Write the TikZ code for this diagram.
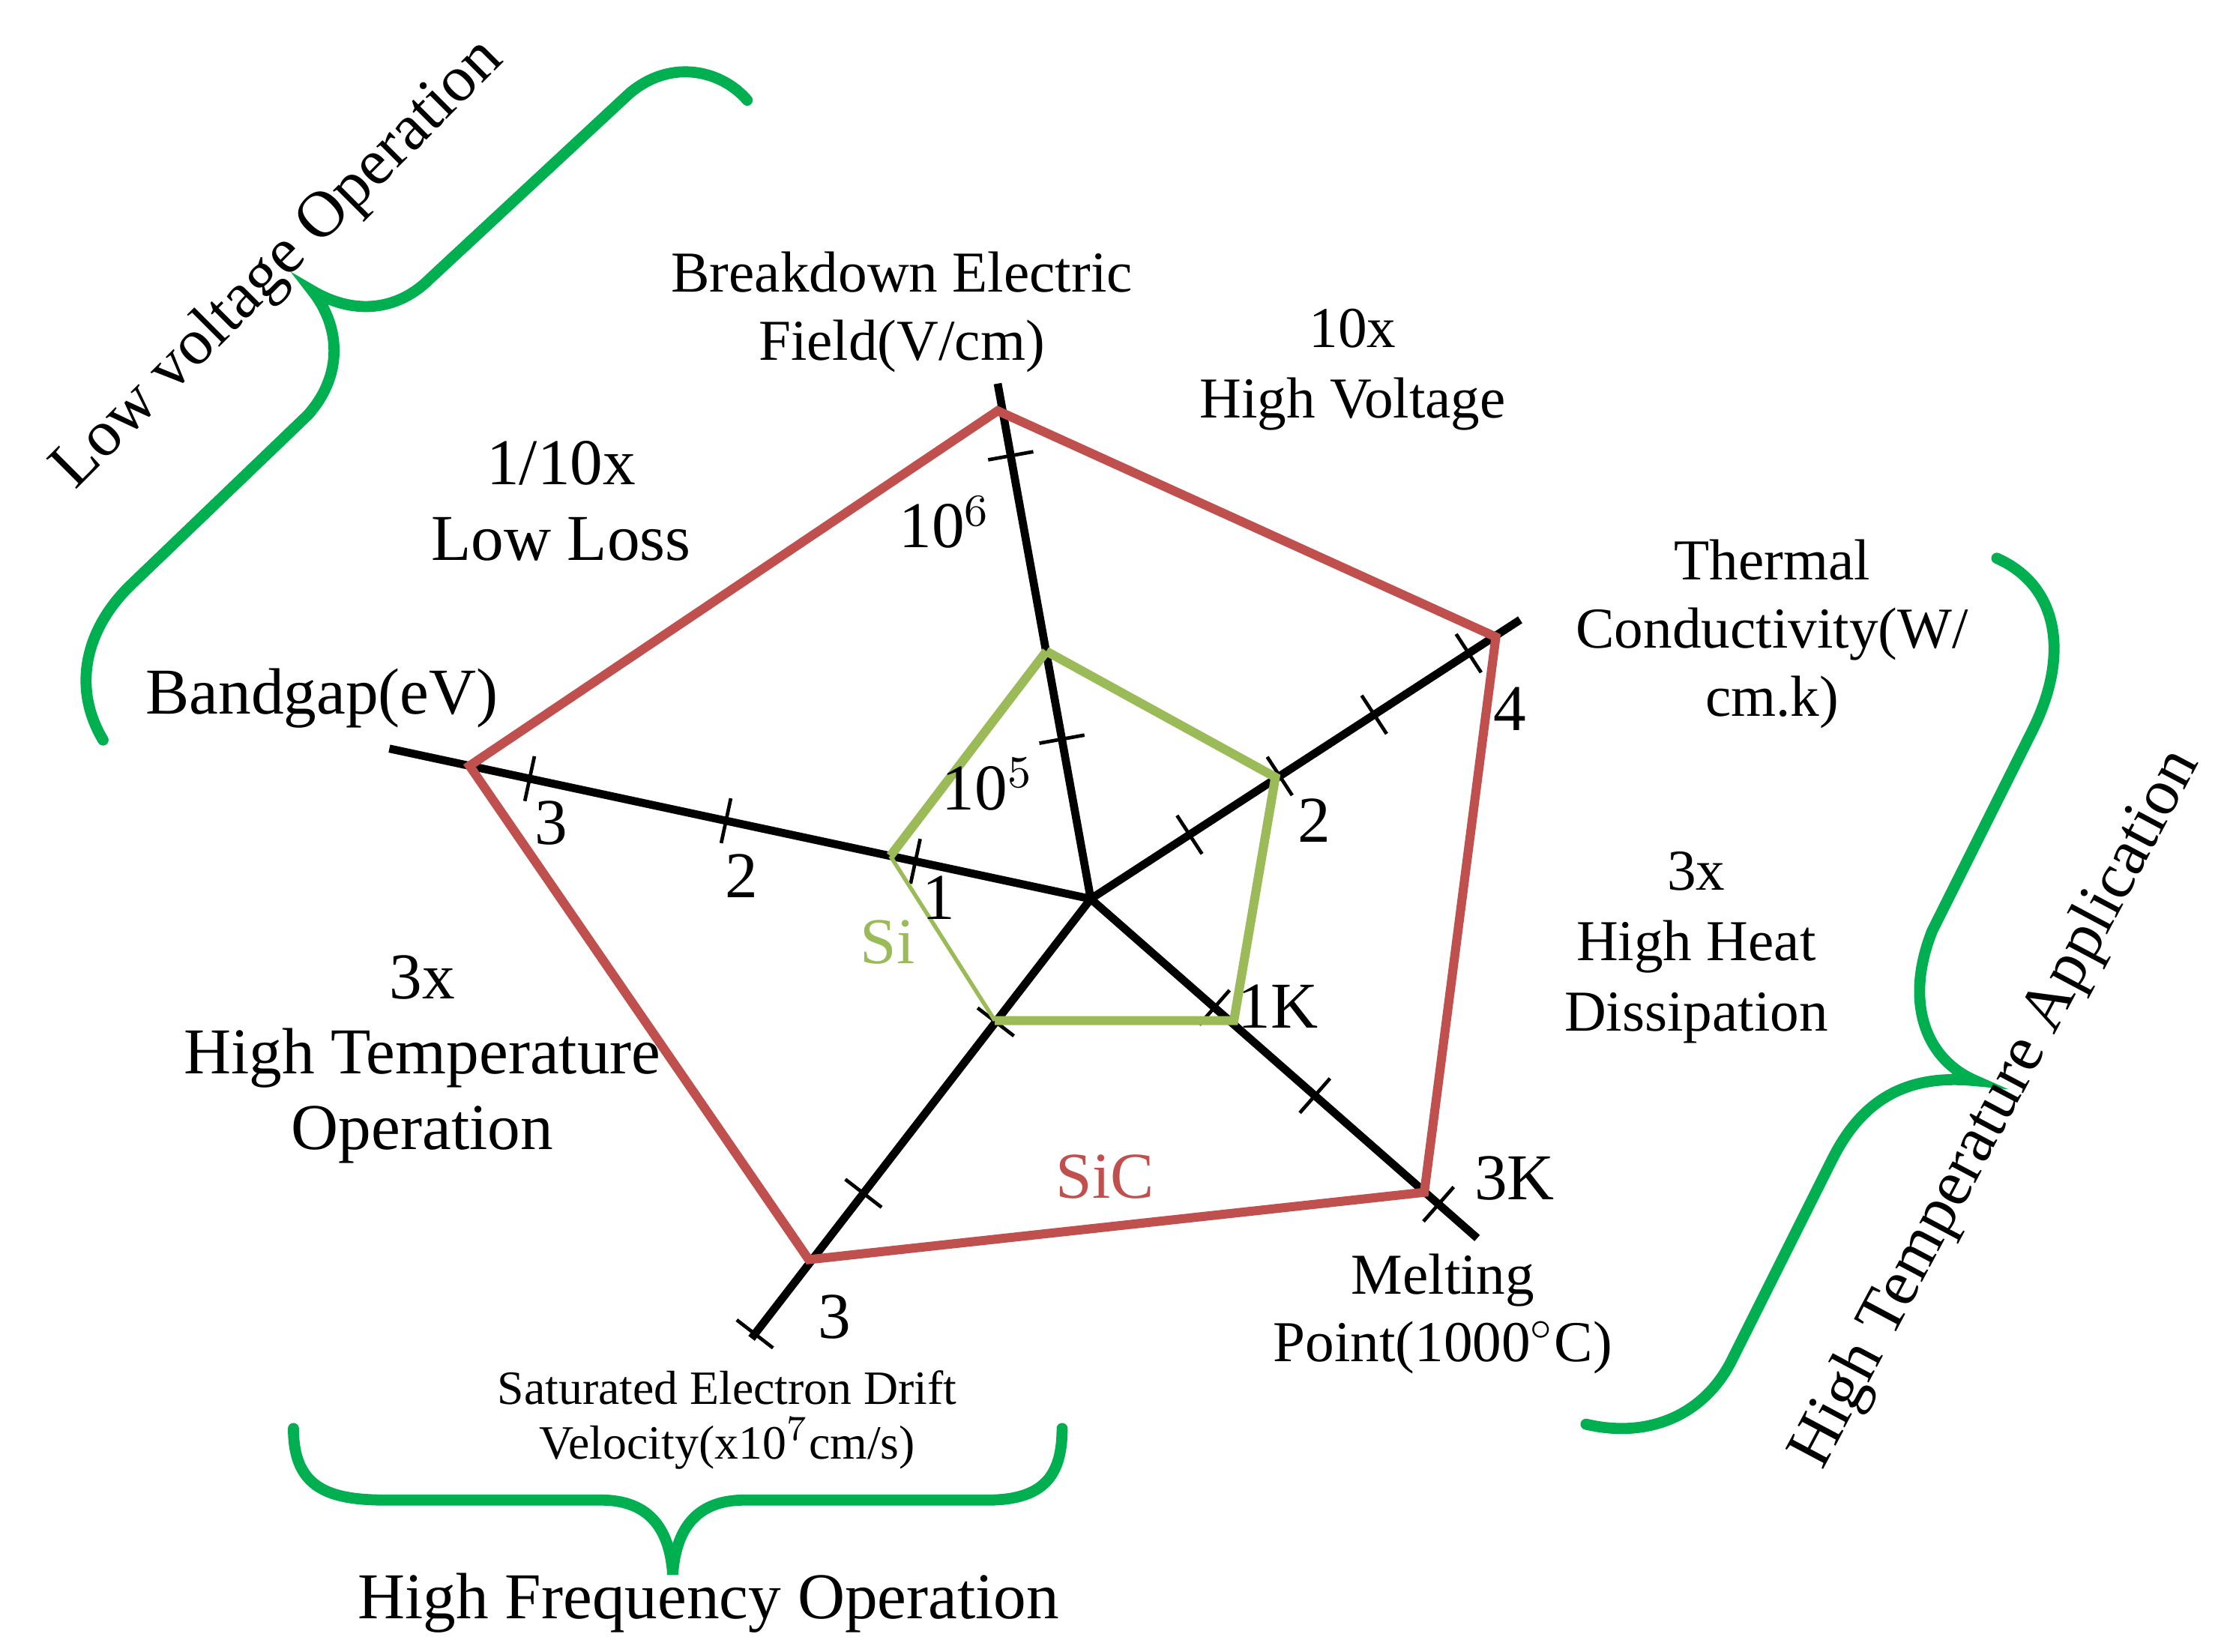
\documentclass[tikz,border=0pt]{standalone}
\usepackage{fontspec}
\setmainfont{Liberation Serif}
\usetikzlibrary{positioning,calc}
\definecolor{sicred}{RGB}{192,80,77}
\definecolor{sigreen}{RGB}{155,187,89}
\definecolor{bracegreen}{RGB}{0,176,80}
\tikzset{
  axis/.style={line width=1.6pt, black},
  tickmark/.style={draw, line width=0.7pt, minimum width=0pt, minimum height=3.2mm, inner sep=0pt, sloped},
  lbl/.style={align=center, font=\fontsize{13}{15}\selectfont},
  small/.style={align=center, font=\fontsize{9.5}{11}\selectfont},
  brace/.style={bracegreen, line width=2.2pt, line cap=round}
}
\begin{document}
\begin{tikzpicture}[x=0.01cm, y=-0.01cm]
  \useasboundingbox (0,0) rectangle (1560,1154);
  % axes
  \coordinate (c) at (762,628);
  \coordinate (bd) at (697,268);
  \coordinate (tc) at (1062,433);
  \coordinate (mp) at (1032,865);
  \coordinate (sv) at (525,935);
  \coordinate (bg) at (272,523);
  \foreach \e in {bd,tc,mp,sv,bg}
    \draw[axis] (c) -- (\e);
  % ticks
  \path (c) -- (bd) node[tickmark, pos=0.31]{} node[tickmark, pos=0.86]{};
  \path (c) -- (tc) node[tickmark, pos=0.23]{} node[tickmark, pos=0.44]{}
                    node[tickmark, pos=0.66]{} node[tickmark, pos=0.88]{};
  \path (c) -- (mp) node[tickmark, pos=0.32]{} node[tickmark, pos=0.58]{} node[tickmark, pos=0.9]{};
  \path (c) -- (sv) node[tickmark, pos=0.28]{} node[tickmark, pos=0.67]{} node[tickmark, pos=0.99]{};
  \path (c) -- (bg) node[tickmark, pos=0.25]{} node[tickmark, pos=0.52]{} node[tickmark, pos=0.8]{};
  % polygons
  \draw[sicred, line width=1.8pt] (697,287) -- (1045,445) -- (995,833) -- (565,880) -- (328,535) -- cycle;
  \draw[sigreen, line width=1.8pt] (731,455) -- (891,543) -- (862,713) -- (695,713);
  \draw[sigreen, line width=0.8pt] (695,713) -- (622,598);
  \draw[sigreen, line width=1.8pt] (622,598) -- (731,455);
  % scale labels
  \node[lbl] (n6) at (660,365) {10$^6$};
  \node[lbl] (n5) at (690,548) {10$^5$};
  \node[lbl] (t4) at (1055,495) {4};
  \node[lbl] (t2) at (918,573) {2};
  \node[lbl] (m1) at (893,703) {1K};
  \node[lbl] (m3) at (1058,823) {3K};
  \node[lbl] (s3) at (583,920) {3};
  \node[lbl] (g3) at (385,575) {3};
  \node[lbl] (g2) at (518,612) {2};
  \node[lbl] (g1) at (656,627) {1};
  \node[lbl, text=sigreen] (si) at (620,658) {Si};
  \node[lbl, text=sicred] (sic) at (772,822) {SiC};
  % axis titles
  \node[lbl, font=\fontsize{11.5}{13.5}\selectfont] (bdt) at (630,218) {Breakdown Electric\\Field(V/cm)};
  \node[lbl, font=\fontsize{11.5}{13.5}\selectfont] (tct) at (1238,443) {Thermal\\Conductivity(W/\\cm.k)};
  \node[lbl] (bgt) at (225,488) {Bandgap(eV)};
  \node[lbl, font=\fontsize{11.5}{13.5}\selectfont] (mpt) at (1008,918) {Melting\\Point(1000$^\circ$C)};
  \node[small] (svt) at (508,992) {Saturated Electron Drift\\Velocity(x10$^7$cm/s)};
  % benefits
  \node[lbl, font=\fontsize{11.5}{14}\selectfont] (hv) at (945,258) {10x\\High Voltage};
  \node[lbl] (ll) at (392,350) {1/10x\\Low Loss};
  \node[lbl, font=\fontsize{11.5}{14}\selectfont] (hh) at (1185,662) {3x\\High Heat\\Dissipation};
  \node[lbl] (ht) at (295,740) {3x\\High Temperature\\Operation};
  % braces
  \draw[brace] (72,517) .. controls (50,480) and (60,440) .. (90,410) -- (215,290)
     .. controls (240,262) and (238,228) .. (218,203)
     .. controls (250,222) and (280,215) .. (300,195) -- (440,65)
     .. controls (470,40) and (505,50) .. (522,70);
  \draw[brace] (205,998) .. controls (205,1040) and (230,1048) .. (270,1048) -- (420,1048)
     .. controls (455,1048) and (468,1070) .. (470,1100)
     .. controls (472,1070) and (485,1048) .. (520,1048) -- (690,1048)
     .. controls (730,1048) and (742,1030) .. (742,998);
  \draw[brace] (1395,390) .. controls (1440,410) and (1445,460) .. (1420,510) -- (1350,650)
     .. controls (1330,700) and (1345,740) .. (1380,755)
     .. controls (1330,750) and (1300,770) .. (1280,810) -- (1210,950)
     .. controls (1190,990) and (1150,1005) .. (1108,995);
  % group titles
  \node[lbl, rotate=45] (lv) at (195,185) {Low voltage Operation};
  \node[lbl] (hf) at (495,1120) {High Frequency Operation};
  \node[lbl, rotate=62] (hta) at (1395,775) {High Temperature Application};
\end{tikzpicture}
\end{document}
